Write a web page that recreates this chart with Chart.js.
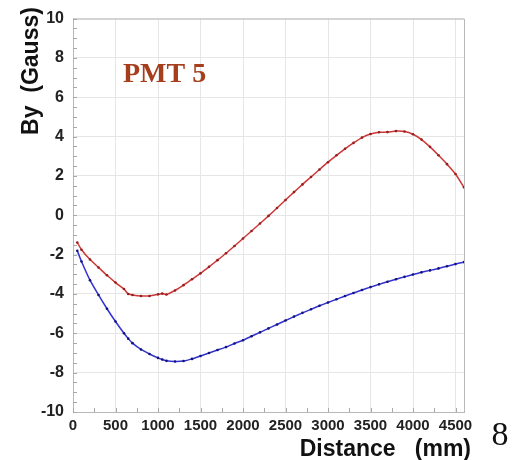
<!DOCTYPE html>
<html>
<head>
<meta charset="utf-8">
<script src="https://cdn.jsdelivr.net/npm/chart.js@4.4.1/dist/chart.umd.min.js"></script>
<style>
  html, body { margin: 0; padding: 0; background: #fff; }
  #wrap { width: 515px; height: 460px; position: relative; }
</style>
</head>
<body>
<div id="wrap"><canvas id="c" width="515" height="460"></canvas></div>
<script>
// values
const distance = [50, 100, 200, 300, 400, 500, 600, 650, 700, 800, 900, 1000, 1050, 1100,
  1200, 1300, 1400, 1500, 1600, 1700, 1800, 1900, 2000, 2100, 2200, 2300, 2400, 2500,
  2600, 2700, 2800, 2900, 3000, 3100, 3200, 3300, 3400, 3500, 3600, 3700, 3800, 3900,
  4000, 4100, 4200, 4300, 4400, 4500, 4600];

const redBy = [-1.38, -1.75, -2.25, -2.65, -3.05, -3.42, -3.75, -4.0, -4.05, -4.1, -4.1,
  -4.02, -3.98, -4.03, -3.82, -3.55, -3.25, -2.95, -2.62, -2.28, -1.93, -1.56, -1.18,
  -0.8, -0.42, -0.03, 0.37, 0.78, 1.18, 1.57, 1.95, 2.33, 2.7, 3.05, 3.38, 3.68, 3.95,
  4.13, 4.22, 4.23, 4.28, 4.26, 4.12, 3.85, 3.48, 3.05, 2.6, 2.1, 1.42];

const blueBy = [-1.8, -2.35, -3.3, -4.05, -4.75, -5.4, -6.0, -6.27, -6.5, -6.82, -7.05,
  -7.25, -7.33, -7.4, -7.43, -7.41, -7.3, -7.15, -7.0, -6.85, -6.7, -6.52, -6.35,
  -6.15, -5.95, -5.75, -5.55, -5.35, -5.15, -4.96, -4.78, -4.6, -4.43, -4.27, -4.1,
  -3.95, -3.8, -3.65, -3.51, -3.38, -3.25, -3.13, -3.01, -2.9, -2.8, -2.7, -2.59,
  -2.48, -2.38];

const xTicks = [0, 500, 1000, 1500, 2000, 2500, 3000, 3500, 4000, 4500];
const yTicks = [-10, -8, -6, -4, -2, 0, 2, 4, 6, 8, 10];

const toPoints = (ys) => distance.map((x, i) => ({ x: x, y: ys[i] }));

// extra drawing: minor ticks, frame, labels
const decorations = {
  id: "decorations",
  afterDraw(chart) {
    const { ctx, chartArea: a, scales } = chart;
    const xs = scales.x, ys = scales.y;
    ctx.save();
    ctx.strokeStyle = "#b8b8b8";
    ctx.lineWidth = 1;
    ctx.beginPath();
    ctx.moveTo(a.left, a.top + 0.5);
    ctx.lineTo(a.right + 0.5, a.top + 0.5);
    ctx.lineTo(a.right + 0.5, a.bottom);
    ctx.stroke();
    // minor ticks
    ctx.strokeStyle = "#a8a8a8";
    ctx.beginPath();
    for (let v = -10; v <= 10; v += 0.5) {
      const py = Math.round(ys.getPixelForValue(v)) + 0.5;
      ctx.moveTo(a.left, py);
      ctx.lineTo(a.left + 4, py);
    }
    for (let v = 0; v <= 4600; v += 250) {
      const px = Math.round(xs.getPixelForValue(v)) + 0.5;
      ctx.moveTo(px, a.bottom);
      ctx.lineTo(px, a.bottom - 4);
    }
    ctx.stroke();

    ctx.fillStyle = "#a63e1c";
    ctx.font = "bold 28px 'Liberation Serif', 'Times New Roman', serif";
    ctx.textAlign = "left";
    ctx.textBaseline = "alphabetic";
    ctx.fillText("PMT 5", 123, 82);

    ctx.fillStyle = "#111";
    ctx.font = "bold 23px 'Liberation Sans', Arial, sans-serif";
    ctx.textAlign = "right";
    ctx.fillText("Distance   (mm)", 471, 456);

    ctx.save();
    ctx.translate(38, 71);
    ctx.rotate(-Math.PI / 2);
    ctx.textAlign = "center";
    ctx.fillText("By  (Gauss)", 0, 0);
    ctx.restore();

    ctx.font = "34px 'Liberation Serif', 'Times New Roman', serif";
    ctx.textAlign = "center";
    ctx.fillText("8", 500, 445);
    ctx.restore();
  }
};

new Chart(document.getElementById("c"), {
  type: "line",
  data: {
    datasets: [
      {
        data: toPoints(redBy),
        borderColor: "rgb(205, 55, 55)",
        backgroundColor: "rgb(150, 30, 30)",
        borderWidth: 1.5,
        pointRadius: 1.3,
        pointBorderWidth: 0,
        tension: 0.2
      },
      {
        data: toPoints(blueBy),
        borderColor: "rgb(50, 50, 210)",
        backgroundColor: "rgb(20, 20, 120)",
        borderWidth: 1.5,
        pointRadius: 1.3,
        pointBorderWidth: 0,
        tension: 0.2
      }
    ]
  },
  options: {
    responsive: false,
    animation: false,
    layout: { padding: { left: 0, top: 12, right: 51, bottom: 0 } },
    plugins: {
      legend: { display: false },
      tooltip: { enabled: false }
    },
    scales: {
      x: {
        type: "linear",
        min: 0,
        max: 4600,
        afterBuildTicks: (s) => { s.ticks = xTicks.map((v) => ({ value: v })); },
        afterFit: (s) => { s.height = 48; },
        grid: { color: "#e6e6e6", drawTicks: false },
        border: { color: "#b8b8b8" },
        ticks: {
          padding: 5,
          color: "#222",
          maxRotation: 0,
          autoSkip: false,
          callback: (v) => String(v),
          font: { family: "'Liberation Sans', Arial, sans-serif", size: 15, weight: "bold" }
        }
      },
      y: {
        min: -10,
        max: 10,
        afterBuildTicks: (s) => { s.ticks = yTicks.map((v) => ({ value: v })); },
        afterFit: (s) => { s.width = 73; },
        grid: { color: "#e6e6e6", drawTicks: false },
        border: { color: "#b8b8b8" },
        ticks: {
          padding: 9,
          color: "#222",
          font: { family: "'Liberation Sans', Arial, sans-serif", size: 16, weight: "bold" }
        }
      }
    }
  },
  plugins: [decorations]
});
</script>
</body>
</html>
